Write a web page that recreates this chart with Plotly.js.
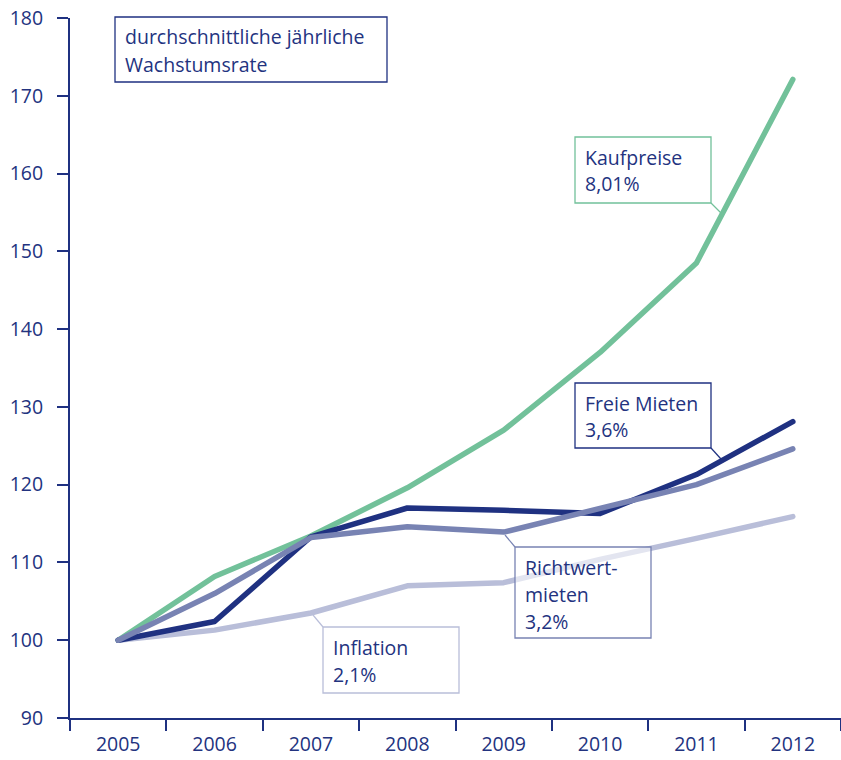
<!DOCTYPE html>
<html>
<head>
<meta charset="utf-8">
<script src="https://cdn.plot.ly/plotly-3.0.1.min.js"></script>
<style>
html,body{margin:0;padding:0;background:#fff;}
.scatterlayer path.js-line{stroke-linecap:round;stroke-linejoin:round;}
</style>
</head>
<body>
<div id="chart" style="width:841px;height:760px;"></div>
<script>
const years = ["2005","2006","2007","2008","2009","2010","2011","2012"];
const kaufpreise = [100, 108.2, 113.4, 119.6, 127.0, 137.0, 148.5, 172.1];
const freieMieten = [100, 102.4, 113.3, 117.0, 116.7, 116.3, 121.3, 128.1];
const richtwertMieten = [100, 106.0, 113.2, 114.6, 113.9, 116.9, 120.0, 124.6];
const inflation = [100, 101.3, 103.5, 107.0, 107.4, 110.4, 113.1, 115.9];
const yTicks = [90,100,110,120,130,140,150,160,170,180];

const navy = "#1f3181";
const green = "#72c19a";
const slate = "#7883b3";
const light = "#b9bed9";
const textColor = "#23337f";
const FONT = "Open Sans, sans-serif";
const FS = 19.5;

const traces = [
  {name:"Inflation", x:years, y:inflation, color:light},
  {name:"Kaufpreise", x:years, y:kaufpreise, color:green},
  {name:"Freie Mieten", x:years, y:freieMieten, color:navy},
  {name:"Richtwertmieten", x:years, y:richtwertMieten, color:slate}
].map(t => ({type:"scatter", mode:"lines", name:t.name, x:t.x, y:t.y,
  line:{color:t.color, width:5.5}, hoverinfo:"skip"}));

// plot area in pixels
const L = 70, R = 841, T = 18, B = 718;
const px = v => (v - L) / (R - L);
const py = v => (B - v) / (B - T);

const boxes = [
  {rect:[115,17,387,82], color:navy, lines:["durchschnittliche jährliche","Wachstumsrate"]},
  {rect:[575,137,711,203], color:green, lines:["Kaufpreise","8,01%"], leader:[711,203,721,213]},
  {rect:[575,383,711,448], color:navy, lines:["Freie Mieten","3,6%"], leader:[711,448,721,459]},
  {rect:[515,547,651,638], color:slate, lines:["Richtwert-","mieten","3,2%"], leader:[515,547,505,535]},
  {rect:[323,627,459,693], color:light, lines:["Inflation","2,1%"], leader:[323,627,313,615]}
];

const shapes = [];
const annotations = [];
boxes.forEach(b => {
  const [x0,y0,x1,y1] = b.rect;
  shapes.push({type:"rect", xref:"paper", yref:"paper", layer:"above",
    x0:px(x0), x1:px(x1), y0:py(y1), y1:py(y0),
    line:{color:b.color, width:1.3}, fillcolor:"rgba(255,255,255,0.6)"});
  if (b.leader) {
    const [a,c,d,e] = b.leader;
    shapes.push({type:"line", xref:"paper", yref:"paper", layer:"above",
      x0:px(a), y0:py(c), x1:px(d), y1:py(e), line:{color:b.color, width:1.2}});
  }
  b.lines.forEach((ln,i) => {
    annotations.push({xref:"paper", yref:"paper", x:px(x0+8), y:py(y0+20+27*i),
      xanchor:"left", yanchor:"middle", showarrow:false, text:ln,
      font:{family:FONT, size:FS, color:textColor, weight:500}});
  });
});

const tickFont = {family:FONT, size:FS, color:textColor, weight:500};

const layout = {
  width:841, height:760,
  margin:{l:70, r:0, t:18, b:42, pad:0},
  paper_bgcolor:"#fff", plot_bgcolor:"#fff",
  showlegend:false,
  font:{family:FONT, size:FS, color:textColor},
  xaxis:{type:"category", range:[-0.5,7.5], tickson:"boundaries",
    showgrid:false, zeroline:false, showline:true, linecolor:navy, linewidth:2,
    ticks:"outside", ticklen:11, tickwidth:2, tickcolor:navy,
    tickfont:tickFont, ticklabelstandoff:8,
    fixedrange:true},
  yaxis:{range:[90,180], tickvals:yTicks, ticktext:yTicks.map(String),
    showgrid:false, zeroline:false, showline:true, linecolor:navy, linewidth:2,
    ticks:"outside", ticklen:11, tickwidth:2, tickcolor:navy,
    tickfont:tickFont, ticklabelstandoff:10,
    fixedrange:true},
  shapes:shapes,
  annotations:annotations
};

Plotly.newPlot("chart", traces, layout, {displayModeBar:false, staticPlot:true});
</script>
</body>
</html>
